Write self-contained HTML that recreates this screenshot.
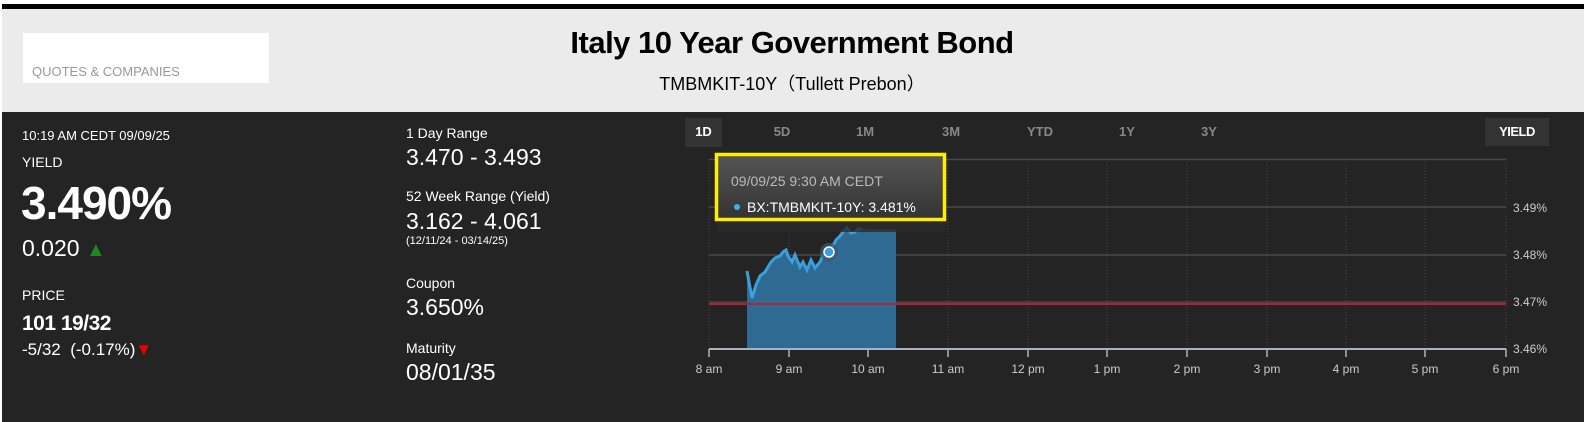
<!DOCTYPE html>
<html><head><meta charset="utf-8"><style>
*{margin:0;padding:0;box-sizing:border-box}
body{width:1584px;height:422px;background:#fff;position:relative;overflow:hidden;font-family:"Liberation Sans",sans-serif}
.a{position:absolute;white-space:nowrap}
.n{font-family:"Liberation Sans Narrow","Liberation Sans",sans-serif}
</style></head><body>
<div class="a" style="left:2px;top:4px;width:1582px;height:5px;background:#000"></div>
<div class="a" style="left:2px;top:9px;width:1582px;height:103px;background:#ebebeb"></div>
<div class="a" style="left:23px;top:33px;width:246px;height:50px;background:#fff"></div>
<div class="a" style="left:32px;top:64px;font-size:13px;color:#999">QUOTES &amp; COMPANIES</div>
<div class="a" style="left:0;width:1584px;text-align:center;top:25px;font-size:31px;font-weight:bold;color:#000;letter-spacing:-0.5px">Italy 10 Year Government Bond</div>
<div class="a" style="left:0;width:1584px;text-align:center;top:70px;font-size:18px;color:#000">TMBMKIT-10Y（Tullett Prebon）</div>
<div class="a" style="left:2px;top:112px;width:1582px;height:310px;background:#242424"></div>
<div class="a n" style="left:22px;top:128px;font-size:13px;color:#fff">10:19 AM CEDT 09/09/25</div>
<div class="a n" style="left:22px;top:154px;font-size:14px;color:#fff">YIELD</div>
<div class="a" style="left:21px;top:176px;font-size:46px;font-weight:bold;color:#fff;letter-spacing:-1px">3.490%</div>
<div class="a n" style="left:22px;top:235px;font-size:23px;color:#fff">0.020 <span style="color:#1a8a1a;font-size:20px">▲</span></div>
<div class="a n" style="left:22px;top:287px;font-size:14px;color:#fff">PRICE</div>
<div class="a n" style="left:22px;top:312px;font-size:21px;font-weight:bold;color:#fff;letter-spacing:-0.5px">101 19/32</div>
<div class="a n" style="left:22px;top:340px;font-size:17px;color:#fff">-5/32 &nbsp;(-0.17%)<span style="color:#e00">▼</span></div>
<div class="a n" style="left:406px;top:125px;font-size:14px;color:#fff">1 Day Range</div>
<div class="a n" style="left:406px;top:144px;font-size:23px;color:#fff">3.470 - 3.493</div>
<div class="a n" style="left:406px;top:188px;font-size:14px;color:#fff">52 Week Range (Yield)</div>
<div class="a n" style="left:406px;top:208px;font-size:23px;color:#fff">3.162 - 4.061</div>
<div class="a n" style="left:406px;top:235px;font-size:11px;color:#fff">(12/11/24 - 03/14/25)</div>
<div class="a n" style="left:406px;top:275px;font-size:14px;color:#fff">Coupon</div>
<div class="a n" style="left:406px;top:294px;font-size:23px;color:#fff">3.650%</div>
<div class="a n" style="left:406px;top:340px;font-size:14px;color:#fff">Maturity</div>
<div class="a n" style="left:406px;top:359px;font-size:23px;color:#fff">08/01/35</div>
<div class="a" style="left:685px;top:118px;width:37px;height:29px;background:#333"></div>
<div class="a" style="left:685px;top:124px;width:37px;text-align:center;font-size:13px;font-weight:bold;color:#fff">1D</div>
<div class="a" style="left:762px;top:124px;width:40px;text-align:center;font-size:13px;font-weight:bold;color:#888">5D</div>
<div class="a" style="left:845px;top:124px;width:40px;text-align:center;font-size:13px;font-weight:bold;color:#888">1M</div>
<div class="a" style="left:931px;top:124px;width:40px;text-align:center;font-size:13px;font-weight:bold;color:#888">3M</div>
<div class="a" style="left:1020px;top:124px;width:40px;text-align:center;font-size:13px;font-weight:bold;color:#888">YTD</div>
<div class="a" style="left:1107px;top:124px;width:40px;text-align:center;font-size:13px;font-weight:bold;color:#888">1Y</div>
<div class="a" style="left:1189px;top:124px;width:40px;text-align:center;font-size:13px;font-weight:bold;color:#888">3Y</div>
<div class="a" style="left:1485px;top:118px;width:64px;height:28px;background:#333"></div>
<div class="a" style="left:1485px;top:124px;width:64px;text-align:center;font-size:13px;font-weight:bold;color:#fff;letter-spacing:-0.5px">YIELD</div>
<svg class="a" style="left:0;top:0" width="1584" height="422" font-family="Liberation Sans, sans-serif">
<defs><linearGradient id="tg" x1="0" y1="0" x2="0" y2="1"><stop offset="0" stop-color="#555"/><stop offset="1" stop-color="#333"/></linearGradient></defs>
<g stroke="#444" stroke-width="1" stroke-dasharray="1,2">
<line x1="789" y1="159" x2="789" y2="349"/><line x1="868" y1="159" x2="868" y2="349"/><line x1="948" y1="159" x2="948" y2="349"/><line x1="1028" y1="159" x2="1028" y2="349"/><line x1="1107" y1="159" x2="1107" y2="349"/><line x1="1187" y1="159" x2="1187" y2="349"/><line x1="1267" y1="159" x2="1267" y2="349"/><line x1="1346" y1="159" x2="1346" y2="349"/><line x1="1425" y1="159" x2="1425" y2="349"/><line x1="1506" y1="159" x2="1506" y2="349"/><line x1="709" y1="159" x2="709" y2="349"/>
</g>
<g stroke="#484848" stroke-width="1.5"><line x1="709" y1="159.5" x2="1506" y2="159.5"/><line x1="709" y1="207" x2="1506" y2="207"/><line x1="709" y1="255" x2="1506" y2="255"/><line x1="709" y1="302" x2="1506" y2="302"/></g>
<path d="M747,271 L749,282 L752,298 L756,285 L760,276 L765,272 L771,262 L775,258 L780,256 L783,252 L786,250 L788,256 L792,262 L795,255 L800,267 L803,262 L807,270 L811,260 L815,268 L820,262 L823,255 L826,252 L831,249 L836,240 L840,236 L843,232 L847,228 L851,233 L855,232 L858,229 L862,229 L896,229 L896,349 L747,349 Z" fill="#2f6a93"/>
<path d="M747,271 L749,282 L752,298 L756,285 L760,276 L765,272 L771,262 L775,258 L780,256 L783,252 L786,250 L788,256 L792,262 L795,255 L800,267 L803,262 L807,270 L811,260 L815,268 L820,262 L823,255 L826,252 L831,249 L836,240 L840,236 L843,232 L847,228 L851,233 L855,232 L858,229 L862,229" fill="none" stroke="#3a9fdc" stroke-width="3"/>
<line x1="709" y1="304" x2="1506" y2="304" stroke="#b0203a" stroke-width="2"/>
<line x1="709" y1="349" x2="1506" y2="349" stroke="#aab4c0" stroke-width="2"/>
<g stroke="#aab4c0" stroke-width="1.5"><line x1="709" y1="349" x2="709" y2="357"/><line x1="789" y1="349" x2="789" y2="357"/><line x1="868" y1="349" x2="868" y2="357"/><line x1="948" y1="349" x2="948" y2="357"/><line x1="1028" y1="349" x2="1028" y2="357"/><line x1="1107" y1="349" x2="1107" y2="357"/><line x1="1187" y1="349" x2="1187" y2="357"/><line x1="1267" y1="349" x2="1267" y2="357"/><line x1="1346" y1="349" x2="1346" y2="357"/><line x1="1425" y1="349" x2="1425" y2="357"/><line x1="1506" y1="349" x2="1506" y2="357"/></g>
<g fill="#ccc" font-size="12" text-anchor="middle"><text x="709" y="373">8 am</text><text x="789" y="373">9 am</text><text x="868" y="373">10 am</text><text x="948" y="373">11 am</text><text x="1028" y="373">12 pm</text><text x="1107" y="373">1 pm</text><text x="1187" y="373">2 pm</text><text x="1267" y="373">3 pm</text><text x="1346" y="373">4 pm</text><text x="1425" y="373">5 pm</text><text x="1506" y="373">6 pm</text></g>
<g fill="#ccc" font-size="12"><text x="1513" y="212">3.49%</text><text x="1513" y="259">3.48%</text><text x="1513" y="306">3.47%</text><text x="1513" y="353">3.46%</text></g>
<circle cx="829" cy="252" r="9" fill="#3a5a70" opacity="0.7"/>
<circle cx="829" cy="252" r="5" fill="#3a9fdc" stroke="#fff" stroke-width="1.5"/>
<rect x="717" y="155" width="229" height="77" fill="#2a2a2a" opacity="0.8"/>
<rect x="716.5" y="154.5" width="228" height="65" fill="url(#tg)" stroke="#ffee00" stroke-width="3.5"/>
<text x="731" y="186" fill="#bbb" font-size="14">09/09/25 9:30 AM CEDT</text>
<circle cx="737" cy="207" r="3" fill="#3ab0ea"/>
<text x="747" y="212" fill="#fff" font-size="14">BX:TMBMKIT-10Y: 3.481%</text>
</svg>
</body></html>
